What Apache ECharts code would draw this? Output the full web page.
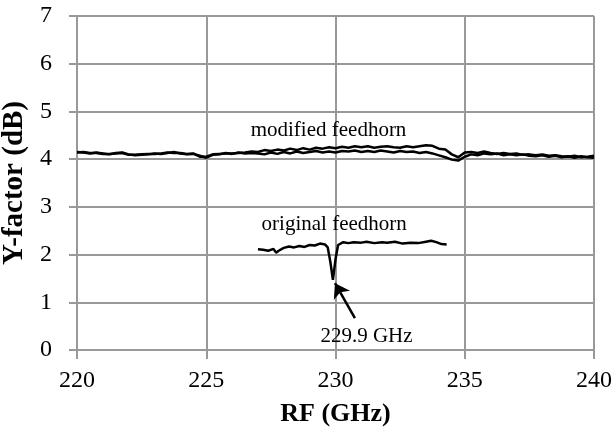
<!DOCTYPE html>
<html><head><meta charset="utf-8">
<script src="https://cdn.jsdelivr.net/npm/echarts@6/dist/echarts.min.js"></script>
<style>html,body{margin:0;padding:0;background:#fff}#c{width:613px;height:438px}</style>
</head><body><div id="c"></div>
<script>
const xTicks = [220, 225, 230, 235, 240];
const yTicks = [0, 1, 2, 3, 4, 5, 6, 7];
const modFreq = [220,220.25,220.5,220.75,221,221.25,221.5,221.75,222,222.25,222.5,222.75,223,223.25,223.5,223.75,224,224.25,224.5,224.75,225,225.25,225.5,225.75,226,226.25,226.5,226.75,227,227.25,227.5,227.75,228,228.25,228.5,228.75,229,229.25,229.5,229.75,230,230.25,230.5,230.75,231,231.25,231.5,231.75,232,232.25,232.5,232.75,233,233.25,233.5,233.75,234,234.25,234.5,234.75,235,235.25,235.5,235.75,236,236.25,236.5,236.75,237,237.25,237.5,237.75,238,238.25,238.5,238.75,239,239.25,239.5,239.75,240];
const modLower = [4.15,4.14,4.12,4.14,4.12,4.10,4.13,4.14,4.10,4.08,4.09,4.10,4.12,4.11,4.13,4.15,4.12,4.10,4.11,4.07,4.03,4.09,4.10,4.13,4.11,4.14,4.12,4.13,4.12,4.10,4.14,4.11,4.15,4.12,4.16,4.13,4.15,4.17,4.14,4.16,4.14,4.17,4.16,4.18,4.15,4.17,4.15,4.18,4.16,4.14,4.17,4.15,4.16,4.13,4.15,4.12,4.08,4.04,3.99,3.97,4.05,4.10,4.08,4.12,4.10,4.12,4.08,4.10,4.08,4.10,4.07,4.06,4.08,4.05,4.07,4.04,4.06,4.03,4.06,4.04,4.03];
const modUpper = [4.14,4.15,4.13,4.13,4.11,4.11,4.12,4.13,4.09,4.09,4.10,4.11,4.11,4.12,4.14,4.13,4.13,4.11,4.12,4.05,4.05,4.10,4.11,4.12,4.12,4.13,4.14,4.16,4.15,4.19,4.17,4.20,4.18,4.22,4.19,4.23,4.20,4.24,4.22,4.25,4.23,4.26,4.24,4.27,4.25,4.27,4.24,4.26,4.27,4.25,4.24,4.27,4.25,4.27,4.29,4.28,4.22,4.20,4.10,4.04,4.14,4.15,4.13,4.16,4.13,4.11,4.13,4.11,4.12,4.09,4.10,4.08,4.10,4.07,4.08,4.06,4.05,4.07,4.04,4.05,4.07];
const origFreq = [227.0,227.2,227.4,227.6,227.7,227.8,228.0,228.2,228.4,228.6,228.8,229.0,229.2,229.4,229.6,229.7,229.8,229.9,230.0,230.1,230.3,230.5,230.7,231.0,231.2,231.5,231.8,232.0,232.3,232.6,232.9,233.2,233.5,233.7,233.9,234.1,234.3];
const origVal = [2.11,2.10,2.08,2.12,2.04,2.08,2.14,2.17,2.15,2.18,2.16,2.20,2.19,2.23,2.21,2.15,1.85,1.47,1.90,2.20,2.26,2.24,2.26,2.25,2.27,2.24,2.26,2.25,2.27,2.23,2.25,2.24,2.27,2.29,2.26,2.22,2.21];
const labels = [
  {name: 'modified feedhorn', x: 229.73, y: 4.61},
  {name: 'original feedhorn', x: 229.95, y: 2.64},
  {name: '229.9 GHz', x: 231.2, y: 0.28}
];
const arrowFrom = [230.75, 0.67];
const arrowTo = [229.98, 1.40];

const pair = (xs, ys) => xs.map((x, i) => [x, ys[i]]);
const font = 'Liberation Serif';
const lineStyle = {color: '#000', width: 2.5};
const chart = echarts.init(document.getElementById('c'));
chart.setOption({
  animation: false,
  grid: {left: 77, right: 19, top: 16, bottom: 88, containLabel: false, outerBoundsMode: 'none'},
  xAxis: {
    type: 'value', min: xTicks[0], max: xTicks[xTicks.length-1], interval: 5,
    name: 'RF (GHz)', nameLocation: 'middle', nameGap: 51,
    nameTextStyle: {fontFamily: font, fontWeight: 'bold', fontSize: 26, color: '#000'},
    axisLine: {lineStyle: {color: '#999', width: 2}},
    axisTick: {show: true, inside: false, length: 9, lineStyle: {color: '#999', width: 2}},
    axisLabel: {fontFamily: font, fontSize: 24, color: '#000', margin: 19},
    splitLine: {show: true, lineStyle: {color: '#999', width: 2}}
  },
  yAxis: {
    type: 'value', min: yTicks[0], max: yTicks[yTicks.length-1], interval: 1,
    name: 'Y-factor (dB)', nameLocation: 'middle', nameGap: 44,
    nameTextStyle: {fontFamily: font, fontWeight: 'bold', fontSize: 29, color: '#000'},
    axisLine: {show: true, lineStyle: {color: '#999', width: 2}},
    axisTick: {show: true, inside: false, length: 8, lineStyle: {color: '#999', width: 2}},
    axisLabel: {fontFamily: font, fontSize: 24, color: '#000', margin: 25},
    splitLine: {show: true, lineStyle: {color: '#999', width: 2}}
  },
  series: [
    {type: 'line', data: pair(modFreq, modLower), showSymbol: false, lineStyle, silent: true},
    {type: 'line', data: pair(modFreq, modUpper), showSymbol: false, lineStyle, silent: true},
    {type: 'line', data: pair(origFreq, origVal), showSymbol: false, lineStyle, silent: true,
      markLine: {
        silent: true, symbol: ['none', 'arrow'], symbolSize: 14,
        lineStyle: {color: '#000', width: 2.5, type: 'solid'},
        label: {show: false},
        data: [[{coord: arrowFrom}, {coord: arrowTo}]]
      },
      markPoint: {
        silent: true, symbol: 'circle', symbolSize: 0,
        label: {show: true, position: 'inside', formatter: p => p.name, fontFamily: font, fontSize: 21, color: '#000'},
        data: labels.map(l => ({name: l.name, coord: [l.x, l.y]}))
      }
    }
  ]
});
</script></body></html>
